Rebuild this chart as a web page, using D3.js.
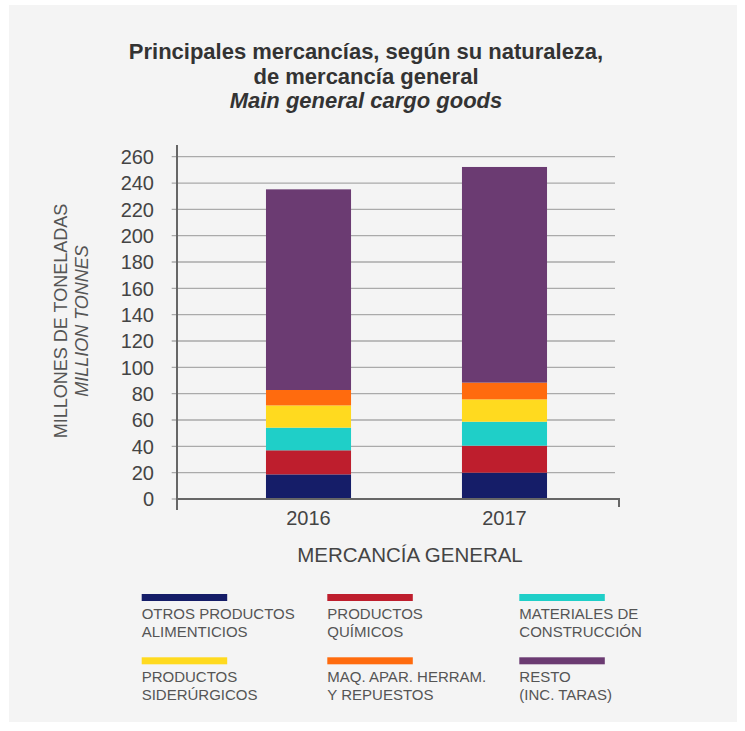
<!DOCTYPE html>
<html>
<head>
<meta charset="utf-8">
<script src="https://cdn.jsdelivr.net/npm/d3@7"></script>
<style>
  body { margin: 0; background: #fff; }
  svg { display: block; font-family: "Liberation Sans", Arial, sans-serif; }
</style>
</head>
<body>
<div id="chart"></div>
<script>
// datos (millones de toneladas)
const years = ["2016", "2017"];
const series = ["otros", "quimicos", "construccion", "siderurgicos", "maquinaria", "resto"];
const otros = [18.7, 20.0];
const quimicos = [18.3, 20.5];
const construccion = [17.2, 18.2];
const siderurgicos = [16.9, 17.0];
const maquinaria = [11.7, 12.7];
const resto = [152.4, 163.8];
const colors = ["#151d68", "#be1e2d", "#1fcfc8", "#ffda1f", "#ff6b0e", "#6b3b72"];
const legendLabels = [
  ["OTROS PRODUCTOS", "ALIMENTICIOS"],
  ["PRODUCTOS", "QUÍMICOS"],
  ["MATERIALES DE", "CONSTRUCCIÓN"],
  ["PRODUCTOS", "SIDERÚRGICOS"],
  ["MAQ. APAR. HERRAM.", "Y REPUESTOS"],
  ["RESTO", "(INC. TARAS)"]
];
const yTicks = [0, 20, 40, 60, 80, 100, 120, 140, 160, 180, 200, 220, 240, 260];

const W = 745, H = 731;
const values = { otros, quimicos, construccion, siderurgicos, maquinaria, resto };
const table = years.map((y, i) => {
  const row = { year: y };
  series.forEach(s => row[s] = values[s][i]);
  return row;
});

const svg = d3.select("#chart").append("svg")
  .attr("width", W).attr("height", H);

// panel gris
svg.append("rect").attr("x", 9).attr("y", 5).attr("width", 728).attr("height", 717)
  .attr("fill", "#f4f4f4");

// título
const title = svg.append("text").attr("text-anchor", "middle").attr("fill", "#333")
  .style("font-size", "22px").style("font-weight", "bold");
title.append("tspan").attr("x", 366).attr("y", 59).text("Principales mercancías, según su naturaleza,");
title.append("tspan").attr("x", 366).attr("y", 84).text("de mercancía general");
title.append("tspan").attr("x", 366).attr("y", 108).style("font-style", "italic").text("Main general cargo goods");

// escalas
const y = d3.scaleLinear().domain([0, 260]).range([499, 156.7]);
const x = d3.scaleBand().domain(years).range([177, 636]).paddingInner(0.566).paddingOuter(0.454);

// líneas de cuadrícula
svg.append("g").selectAll("line").data(yTicks).join("line")
  .attr("x1", 171.7).attr("x2", d => d === 0 ? 177 : 615)
  .attr("y1", d => y(d)).attr("y2", d => y(d))
  .attr("stroke", "#aaa").attr("stroke-width", 1.3);

// barras apiladas
const stacked = d3.stack().keys(series)(table);
svg.append("g").selectAll("g").data(stacked).join("g")
  .attr("fill", (d, i) => colors[i])
  .selectAll("rect").data(d => d).join("rect")
  .attr("x", d => x(d.data.year))
  .attr("width", x.bandwidth())
  .attr("y", d => y(d[1]))
  .attr("height", d => y(d[0]) - y(d[1]));

// ejes
svg.append("line").attr("x1", 177).attr("x2", 177).attr("y1", 145).attr("y2", 510)
  .attr("stroke", "#666").attr("stroke-width", 2);
svg.append("path").attr("d", `M177,${y(0)}H619V507`)
  .attr("fill", "none").attr("stroke", "#666").attr("stroke-width", 2);

// etiquetas eje Y
svg.append("g").selectAll("text").data(yTicks).join("text")
  .attr("x", 154).attr("y", d => y(d)).attr("dy", "0.36em")
  .attr("text-anchor", "end").attr("fill", "#444").style("font-size", "20px")
  .text(d => d);

// etiquetas eje X
svg.append("g").selectAll("text").data(years).join("text")
  .attr("x", d => x(d) + x.bandwidth() / 2).attr("y", 525)
  .attr("text-anchor", "middle").attr("fill", "#444").style("font-size", "20px")
  .text(d => d);

svg.append("text").attr("x", 410).attr("y", 562).attr("text-anchor", "middle")
  .attr("fill", "#444").style("font-size", "20.5px").text("MERCANCÍA GENERAL");

// título eje Y
svg.append("text").attr("transform", "translate(67,321) rotate(-90)")
  .attr("text-anchor", "middle").attr("fill", "#555").style("font-size", "18px")
  .text("MILLONES DE TONELADAS");
svg.append("text").attr("transform", "translate(88,321) rotate(-90)")
  .attr("text-anchor", "middle").attr("fill", "#555").style("font-size", "18px")
  .style("font-style", "italic").text("MILLION TONNES");

// leyenda
const legX = [141.7, 327.3, 519.3];
const legY = [594, 657.3];
const leg = svg.append("g").selectAll("g").data(series).join("g")
  .attr("transform", (d, i) => `translate(${legX[i % 3]},${legY[Math.floor(i / 3)]})`);
leg.append("rect").attr("width", 85.5).attr("height", 7).attr("fill", (d, i) => colors[i]);
leg.append("text").attr("fill", "#555").style("font-size", "15px")
  .selectAll("tspan").data((d, i) => legendLabels[i]).join("tspan")
  .attr("x", 0).attr("y", (d, j) => 25 + j * 18).text(d => d);
</script>
</body>
</html>
